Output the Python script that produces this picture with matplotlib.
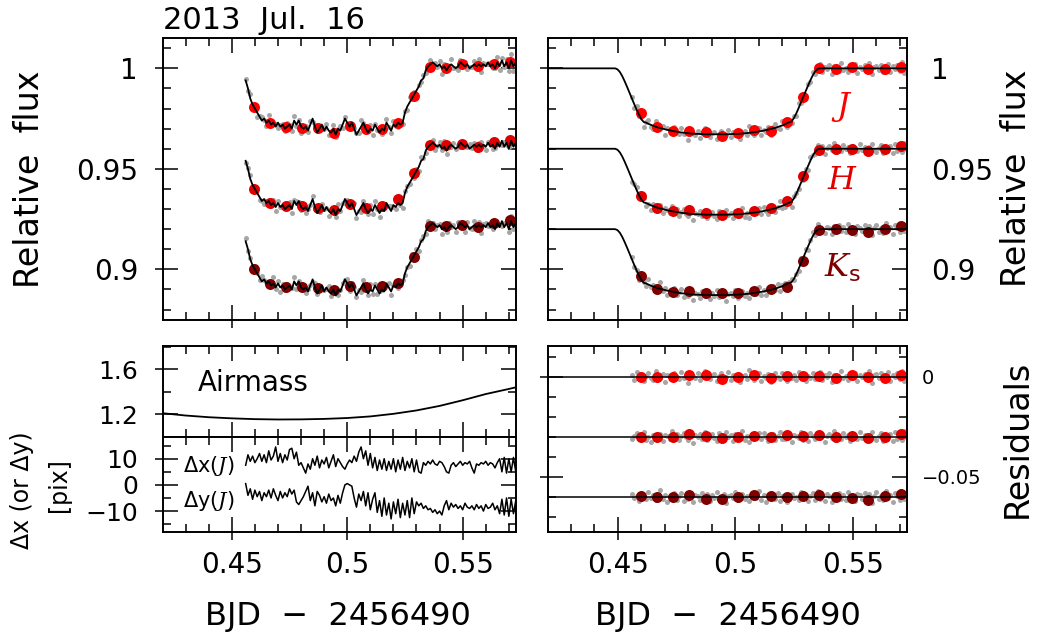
import numpy as np
import matplotlib
matplotlib.use('Agg')
import matplotlib.pyplot as plt
from matplotlib.ticker import MultipleLocator, FuncFormatter

plt.rcParams['font.family'] = ['DejaVu Sans']
plt.rcParams['mathtext.fontset'] = 'custom'
plt.rcParams['mathtext.rm'] = 'DejaVu Sans'
plt.rcParams['mathtext.it'] = 'DejaVu Serif:italic'

# ---------------- data ----------------
# unbinned exposures: regular cadence of 0.001 d
t_obs = np.round(0.456 + 0.001 * np.arange(118), 3)

# raw J light curve (left panel black line), ppt relative to 1
raw_ppt = [-6, -10, -15, -18, -20, -22, -24, -26, -25, -27,
           -26, -28, -27, -29, -27, -29, -28, -30, -29, -28,
           -30, -26, -28, -26, -29, -30, -29, -31, -28, -25,
           -29, -32, -30, -28, -31, -29, -31, -32, -30, -33,
           -30, -31, -28, -25, -27, -29, -27, -30, -33, -31,
           -29, -27, -30, -32, -30, -31, -28, -30, -32, -30,
           -31, -27, -29, -31, -28, -29, -27, -28, -27, -22,
           -19, -17, -15, -13, -11, -9, -6, -5, -1, 1,
           2, 3, 2, 1, 2, 0, 1, -1, 1, 2,
           1, 0, 1, 3, 2, 1, 2, 0, 1, 2,
           1, 2, 1, 2, 1, 3, 1, 2, 0, 3,
           1, 4, 1, 3, 0, 4, 1, 3]

# transit model at t_obs (right panel black line), ppt
model_ppt = [-15.2, -18.0, -20.7, -23.2, -25.4, -26.7, -27.0, -27.6, -28.1, -28.6,
             -29.0, -29.4, -29.7, -30.0, -30.3, -30.6, -30.8, -31.1, -31.3, -31.5,
             -31.7, -31.9, -32.0, -32.1, -32.3, -32.4, -32.5, -32.6, -32.6, -32.7,
             -32.7, -32.8, -32.8, -32.8, -32.8, -32.8, -32.8, -32.8, -32.8, -32.8,
             -32.8, -32.8, -32.7, -32.7, -32.6, -32.6, -32.5, -32.4, -32.3, -32.2,
             -32.1, -31.9, -31.8, -31.6, -31.4, -31.2, -31.0, -30.7, -30.5, -30.2,
             -29.9, -29.6, -29.2, -28.8, -28.4, -27.9, -27.3, -26.8, -26.3, -24.6,
             -22.3, -19.6, -16.8, -14.0, -11.2, -8.5, -5.8, -3.4, -1.5, -0.3] + [0.0] * 38
# model before the first exposure
pre_t = [0.4202, 0.4488, 0.4498, 0.4508, 0.4518, 0.4528, 0.4538, 0.4548]
pre_ppt = [0.0, 0.0, -0.5, -1.8, -3.8, -6.3, -9.0, -11.8]

# unbinned residuals per band, ppt
resid_J = [0.8, -1.5, 2.1, -0.4, 1.2, -2.3, 0.3, 1.7, -0.9, -1.8,
           2.6, 0.4, -0.6, 1.1, -2.7, 0.9, 0.2, -1.3, 1.9, -0.2,
           -1.1, 2.4, -0.7, 0.5, -3.1, 1.4, 0.1, -0.8, 1.6, -1.9,
           0.7, 2.9, -0.5, -1.4, 0.6, 1.3, -2.2, 0.2, 1.8, -1.0,
           -0.3, 2.2, -1.7, 0.9, -0.6, 1.5, -2.5, 0.4, 1.0, -1.2,
           3.2, -0.1, -1.6, 0.8, 1.9, -2.0, 0.3, -0.9, 1.4, -2.8,
           0.6, 1.7, -0.4, -1.3, 2.0, 0.1, -2.1, 1.2, -0.7, 0.9,
           -1.5, 2.5, -0.2, 1.1, -2.4, 0.5, -0.8, 1.6, -1.1, 0.0,
           2.3, -1.9, 0.7, -0.3, 1.8, -2.6, 1.0, 0.2, -1.4, 2.7,
           -0.6, 0.4, -1.8, 1.3, -0.5, 2.0, -2.2, 0.8, -0.1, 1.5,
           -1.2, 2.8, -3.0, 0.6, 1.1, -0.9, 1.9, -1.6, 0.3, 2.4,
           -2.0, 1.0, -0.4, 1.7, -1.3, 3.0, -2.3, 0.9]
resid_H = [-1.2, 0.6, 1.9, -0.8, 0.3, 2.4, -1.7, 0.1, -2.6, 1.1,
           0.7, -0.4, 1.6, -2.1, 0.9, 0.2, -1.0, 2.7, -0.6, 1.3,
           -1.8, 0.5, 2.0, -0.3, -1.4, 1.8, -2.9, 0.8, 0.0, 1.5,
           -0.9, 2.2, -1.6, 0.4, 1.2, -0.7, -2.3, 1.7, 0.6, -1.1,
           2.5, -0.2, 0.9, -1.9, 1.4, 0.3, -0.8, 3.1, -1.5, 0.2,
           -2.4, 1.0, 0.7, -0.5, 1.9, -1.3, 2.1, -0.1, -2.0, 0.8,
           1.3, -1.7, 0.4, 2.6, -0.9, -1.2, 1.6, 0.0, -2.7, 1.1,
           0.5, -0.6, 2.3, -1.4, 0.9, -2.2, 1.7, 0.3, -1.0, 2.0,
           -0.4, 1.2, -2.5, 0.6, 1.5, -0.8, 2.8, -1.6, 0.1, -1.1,
           1.9, -0.3, 0.7, -2.0, 1.4, 0.2, -1.3, 2.2, -0.7, 0.9,
           -1.8, 1.0, 2.6, -0.5, -1.5, 0.4, 1.8, -2.3, 0.6, -0.2,
           1.3, -1.9, 2.4, -0.9, 0.8, -1.4, 3.0, -0.6]
resid_K = [1.5, -0.7, 0.4, -2.2, 1.8, 0.2, -1.1, 2.6, -0.5, 0.9,
           -1.6, 0.3, 3.4, -0.9, 1.2, -2.4, 0.7, -0.2, 1.9, -1.3,
           0.6, 2.2, -1.8, 0.1, -0.8, 1.6, -2.7, 1.0, 0.4, -1.5,
           2.0, -0.3, 1.3, -2.0, 0.8, -0.6, 2.5, -1.2, 0.2, 1.7,
           -2.9, 0.5, 1.1, -0.4, 2.3, -1.7, 0.0, 1.4, -1.0, 0.6,
           -2.1, 1.9, 0.3, -0.7, 2.8, -1.4, 0.9, -2.3, 1.2, -0.1,
           1.6, -0.9, 2.1, -1.8, 0.4, 1.0, -2.5, 0.7, 1.5, -0.6,
           0.2, -1.3, 2.4, -0.4, 1.1, -2.0, 0.5, 1.8, -1.6, 2.9,
           -0.8, 0.3, -1.9, 1.3, 0.6, -2.6, 1.7, -0.2, 2.2, -1.1,
           0.9, -1.5, 2.7, -0.6, 0.1, -2.2, 1.4, 0.8, -1.0, 2.0,
           -0.5, 1.6, -2.8, 0.7, 2.3, -1.2, 0.4, -1.7, 3.1, -0.3,
           1.0, -2.4, 1.9, 0.5, -1.3, 2.6, -0.8, 1.4]

# 10-min binned points
t_bin = [0.4596, 0.4665, 0.4734, 0.4804, 0.4873, 0.4943, 0.5012, 0.5081, 0.5151,
         0.5220, 0.5289, 0.5358, 0.5428, 0.5497, 0.5566, 0.5636, 0.5705]
raw_bin_J = [0.9808, 0.9728, 0.9708, 0.9703, 0.9705, 0.9680, 0.9713, 0.9698, 0.9697,
             0.9728, 0.9862, 1.0005, 1.0000, 1.0020, 1.0012, 1.0020, 1.0033]
raw_bin_H = [0.9398, 0.9331, 0.9317, 0.9317, 0.9307, 0.9295, 0.9323, 0.9307, 0.9315,
             0.9348, 0.9480, 0.9620, 0.9617, 0.9625, 0.9608, 0.9635, 0.9642]
raw_bin_K = [0.9001, 0.8925, 0.8913, 0.8913, 0.8905, 0.8897, 0.8917, 0.8910, 0.8917,
             0.8930, 0.9063, 0.9217, 0.9217, 0.9220, 0.9209, 0.9232, 0.9245]
det_bin_J = [0.9776, 0.9710, 0.9690, 0.9690, 0.9683, 0.9663, 0.9680, 0.9693, 0.9688,
             0.9731, 0.9859, 1.0000, 0.9997, 1.0005, 0.9997, 0.9995, 1.0005]
det_bin_H = [0.9365, 0.9307, 0.9290, 0.9295, 0.9282, 0.9270, 0.9282, 0.9292, 0.9303,
             0.9340, 0.9464, 0.9594, 0.9599, 0.9599, 0.9590, 0.9599, 0.9613]
det_bin_K = [0.8968, 0.8901, 0.8889, 0.8894, 0.8881, 0.8881, 0.8884, 0.8892, 0.8901,
             0.8913, 0.9043, 0.9196, 0.9201, 0.9196, 0.9187, 0.9199, 0.9217]
res_bin_J = [0.0, 0.0, -0.3, 1.0, 0.7, -1.0, 0.0, 0.8, -0.8, 0.3, 0.3, 0.3, -0.7, 0.7, -0.3, -0.8, 0.8]
res_bin_H = [0.0, 0.0, 0.0, 1.2, 0.3, -0.8, 0.0, 0.3, -0.3, 0.7, 0.2, 0.7, 0.0, 0.3, -0.8, 0.0, 1.2]
res_bin_K = [0.3, -0.2, 0.0, 0.8, -0.8, -0.8, -0.2, 0.8, 0.7, -0.2, 0.3, 0.8, -0.2, -0.5, -1.3, 0.3, 1.5]

bands = ['J', 'H', 'K']
flux_offset = [0.0, -0.04, -0.08]
res_offset = [0.0, -0.03, -0.06]
band_colors = ['#ff0000', '#e00000', '#800000']
band_labels = ['$J$', '$H$', r'$K_\mathrm{s}$']
label_y = [0.981, 0.9444, 0.9005]

# airmass and centroid offsets
am_t = [0.4202, 0.430, 0.440, 0.450, 0.460, 0.470, 0.480, 0.490, 0.500,
        0.510, 0.520, 0.530, 0.540, 0.550, 0.560, 0.570, 0.5731]
airmass = [1.21, 1.19, 1.175, 1.165, 1.158, 1.155, 1.156, 1.160, 1.168,
           1.182, 1.205, 1.235, 1.275, 1.325, 1.380, 1.425, 1.44]
dx = [7.5, 11.5, 9.0, 11.0, 8.5, 10.0, 12.0, 9.0, 11.5, 8.5,
      13.0, 9.5, 11.0, 14.5, 9.0, 12.0, 8.5, 11.5, 9.5, 13.5,
      14.0, 10.0, 12.5, 7.5, 8.5, 6.5, 4.5, 8.0, 6.0, 10.0,
      7.5, 11.0, 6.5, 9.5, 8.0, 10.5, 6.5, 9.0, 11.5, 7.0,
      10.0, 8.5, 7.0, 6.0, 8.0, 9.5, 8.5, 11.0, 9.0, 12.5,
      14.5, 10.0, 13.0, 7.5, 12.0, 6.5, 10.5, 5.5, 9.5, 6.0,
      10.0, 5.5, 9.0, 6.0, 10.0, 5.0, 9.5, 6.0, 10.5, 5.5,
      9.0, 6.5, 10.0, 5.0, 9.5, 5.0, 4.5, 8.5, 7.5, 9.0,
      8.0, 9.5, 8.0, 7.5, 9.0, 8.5, 7.0, 5.0, 4.5, 7.5,
      8.5, 7.0, 8.0, 9.0, 7.5, 8.5, 8.0, 9.0, 6.5, 4.5,
      8.0, 7.5, 8.5, 8.0, 9.0, 7.5, 8.5, 8.0, 6.5, 8.5,
      10.0, 5.0, 10.5, 4.5, 10.0, 5.0, 10.5, 5.0]
dy = [0.5, -4.0, -1.5, -5.5, -2.0, -4.5, -2.5, -6.0, -3.0, -4.5,
      -2.0, -5.0, -1.5, -4.0, -6.0, -2.5, -5.0, -3.0, -4.5, -1.5,
      -3.5, -2.0, -6.5, -7.5, -6.0, -4.5, -2.5, -0.5, -6.0, -3.0,
      -8.0, -2.5, -4.0, -6.5, -4.5, -7.0, -3.5, -6.0, -5.0, -8.0,
      -4.0, -7.0, -3.0, 0.0, 0.5, 0.0, -0.5, -5.0, -8.5, -3.5,
      -6.0, -2.5, -8.0, -3.0, -9.5, -5.5, -3.0, -10.5, -6.0, -12.0,
      -5.0, -11.5, -7.0, -13.0, -6.5, -11.0, -5.5, -12.5, -7.0, -11.5,
      -6.0, -12.5, -5.0, -11.0, -6.5, -8.0, -7.0, -9.0, -8.0, -9.5,
      -9.0, -10.5, -9.5, -11.0, -10.0, -11.5, -8.0, -6.0, -9.5, -7.0,
      -8.5, -7.5, -9.0, -8.0, -9.5, -7.0, -8.5, -9.0, -8.0, -9.5,
      -7.5, -9.0, -8.0, -10.0, -7.5, -9.0, -8.5, -7.0, -9.5, -8.0,
      -11.0, -5.5, -11.5, -5.0, -12.0, -5.5, -11.0, -6.0]

# ---------------- figure ----------------
DPI = 100
W, H = 1038, 632
fig = plt.figure(figsize=(W / DPI, H / DPI), dpi=DPI)


def px(n):
    return n * 72.0 / DPI


def box(x0, y0, x1, y1):
    return [x0 / W, 1 - y1 / H, (x1 - x0) / W, (y1 - y0) / H]


def tick_fmt(v, pos):
    s = f'{round(v, 6):g}'
    if s == '-0':
        s = '0'
    return s.replace('-', '\u2212')


def dress(ax, ymaj, ymin, side, fs, pad):
    ax.set_xlim(0.4202, 0.5731)
    ax.xaxis.set_major_locator(MultipleLocator(0.05))
    ax.xaxis.set_minor_locator(MultipleLocator(0.01))
    ax.yaxis.set_major_locator(MultipleLocator(ymaj))
    ax.yaxis.set_minor_locator(MultipleLocator(ymin))
    ax.xaxis.set_major_formatter(FuncFormatter(tick_fmt))
    ax.yaxis.set_major_formatter(FuncFormatter(tick_fmt))
    ax.tick_params(which='both', direction='in', top=True, right=True, width=1.1,
                   labelbottom=False, labelleft=(side == 'left'),
                   labelright=(side == 'right'))
    ax.tick_params(which='major', length=px(15))
    ax.tick_params(which='minor', length=px(8))
    ax.tick_params(axis='y', labelsize=fs, pad=pad)
    for sp in ax.spines.values():
        sp.set_linewidth(1.4)


def stubs(ax, ymaj, xstub=True):
    # short outward extensions of the major ticks on left / bottom
    sy = ax.secondary_yaxis('left')
    sy.yaxis.set_major_locator(MultipleLocator(ymaj))
    sy.tick_params(direction='out', length=px(8), width=1.1, labelleft=False)
    sy.spines['left'].set_visible(False)
    if xstub:
        sx = ax.secondary_xaxis('bottom')
        sx.xaxis.set_major_locator(MultipleLocator(0.05))
        sx.tick_params(direction='out', length=px(8), width=1.1, labelbottom=False)
        sx.spines['bottom'].set_visible(False)


ax_lc = fig.add_axes(box(163, 38, 516, 320))
ax_dt = fig.add_axes(box(548, 38, 907, 320))
ax_am = fig.add_axes(box(163, 346, 516, 437))
ax_xy = fig.add_axes(box(163, 437, 516, 532))
ax_res = fig.add_axes(box(548, 346, 907, 532))

gray = '#a6a6a6'
ms_gray = px(5)
ms_bin = px(11)

resid = {'J': resid_J, 'H': resid_H, 'K': resid_K}
raw_bin = {'J': raw_bin_J, 'H': raw_bin_H, 'K': raw_bin_K}
det_bin = {'J': det_bin_J, 'H': det_bin_H, 'K': det_bin_K}
res_bin = {'J': res_bin_J, 'H': res_bin_H, 'K': res_bin_K}

raw = 1 + np.array(raw_ppt) * 1e-3
model = 1 + np.array(model_ppt) * 1e-3
model_t = np.concatenate([pre_t, t_obs])
model_line = np.concatenate([1 + np.array(pre_ppt) * 1e-3, model])

for b, off, roff, col, lab, ly in zip(bands, flux_offset, res_offset, band_colors,
                                      band_labels, label_y):
    r = np.array(resid[b]) * 1e-3
    # left: raw light curves
    ax_lc.plot(t_obs, raw + off + r, 'o', ms=ms_gray, color=gray, mec='none')
    ax_lc.plot(t_bin, raw_bin[b], 'o', ms=ms_bin, color=col, mec='none')
    ax_lc.plot(t_obs, raw + off, color='black', lw=1.3)
    # right: detrended light curves + model
    ax_dt.plot(t_obs, model + off + r, 'o', ms=ms_gray, color=gray, mec='none')
    ax_dt.plot(t_bin, det_bin[b], 'o', ms=ms_bin, color=col, mec='none')
    ax_dt.plot(model_t, model_line + off, color='black', lw=1.3)
    ax_dt.text(0.5455, ly, lab, color=col, fontsize=23, ha='center', va='center')
    # residuals
    ax_res.plot(t_obs, roff + r, 'o', ms=ms_gray, color=gray, mec='none')
    ax_res.plot(t_bin, roff + np.array(res_bin[b]) * 1e-3, 'o', ms=ms_bin,
                color=col, mec='none')
    ax_res.axhline(roff, color='black', lw=1.1)

ax_am.plot(am_t, airmass, color='black', lw=1.3)
ax_am.text(0.099, 0.59, 'Airmass', transform=ax_am.transAxes, fontsize=20,
           ha='left', va='center')

ax_xy.plot(t_obs, dx, color='black', lw=1.1)
ax_xy.plot(t_obs, dy, color='black', lw=1.1)
ax_xy.text(0.057, 0.695, 'Δx($J$)', transform=ax_xy.transAxes, fontsize=15,
           ha='left', va='center')
ax_xy.text(0.057, 0.326, 'Δy($J$)', transform=ax_xy.transAxes, fontsize=15,
           ha='left', va='center')

ax_lc.set_ylim(0.8748, 1.0151)
ax_dt.set_ylim(0.8748, 1.0151)
ax_am.set_ylim(1.0, 1.805)
ax_xy.set_ylim(-18.0, 18.3)
ax_res.set_ylim(-0.0775, 0.0153)

dress(ax_lc, 0.05, 0.01, 'left', 20, px(25))
dress(ax_dt, 0.05, 0.01, 'right', 20, px(24))
dress(ax_am, 0.4, 0.2, 'left', 18, px(25))
dress(ax_xy, 10, 5, 'left', 18, px(25))
dress(ax_res, 0.05, 0.01, 'right', 14, px(15))
for ax in (ax_xy, ax_res):
    ax.tick_params(axis='x', labelbottom=True, labelsize=20, pad=px(19))

stubs(ax_lc, 0.05)
stubs(ax_dt, 0.05)
stubs(ax_am, 0.4, xstub=False)
stubs(ax_xy, 10)
stubs(ax_res, 0.05)

# figure texts
def ftext(x, y, s, **kw):
    fig.text(x / W, 1 - y / H, s, **kw)

ftext(163, 29, '2013  Jul.  16', fontsize=22, ha='left', va='baseline')
ftext(30, 179, 'Relative  flux', fontsize=24, rotation=90, ha='center', va='center')
ftext(1017, 178, 'Relative  flux', fontsize=24, rotation=90, ha='center', va='center')
ftext(1017, 439, 'Residuals', fontsize=24, rotation=90, ha='center', va='center')
ftext(22, 490, 'Δx (or Δy)', fontsize=17, rotation=90, ha='center', va='center')
ftext(59, 485, '[pix]', fontsize=17, rotation=90, ha='center', va='center')
ftext(338, 625, 'BJD  \u2212  2456490', fontsize=23, ha='center', va='baseline')
ftext(728, 625, 'BJD  \u2212  2456490', fontsize=23, ha='center', va='baseline')

fig.savefig('out.png', dpi=DPI)
